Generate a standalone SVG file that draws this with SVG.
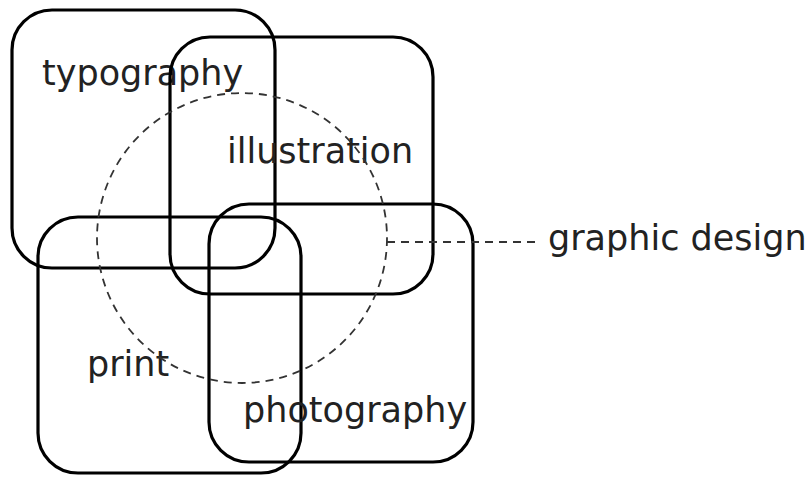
<svg xmlns="http://www.w3.org/2000/svg" width="809" height="478" viewBox="0 0 809 478">
<style>
.set{fill:none;stroke:#000;stroke-width:3.2}
.dash{fill:none;stroke:#333;stroke-width:1.8;stroke-dasharray:8,6}
text{font-family:"DejaVu Sans",Verdana,sans-serif;font-size:35px;fill:#222}
</style>
<rect width="809" height="478" fill="#fff"/>
<g id="typography"><rect class="set" x="12" y="10" width="263" height="258" rx="40"/><text x="42" y="85">typography</text></g>
<g id="illustration"><rect class="set" x="170" y="37" width="263" height="257" rx="40"/><text x="227" y="163">illustration</text></g>
<g id="print"><rect class="set" x="38" y="217" width="263" height="256" rx="40"/><text x="87" y="376">print</text></g>
<g id="photography"><rect class="set" x="209" y="204" width="264" height="258" rx="40"/><text x="243" y="422">photography</text></g>
<g id="graphic-design"><circle class="dash" cx="242" cy="238" r="145"/><text x="548" y="250">graphic design</text></g>
<g id="connectors"><line class="dash" x1="387" y1="242" x2="541" y2="242"/></g>
</svg>
